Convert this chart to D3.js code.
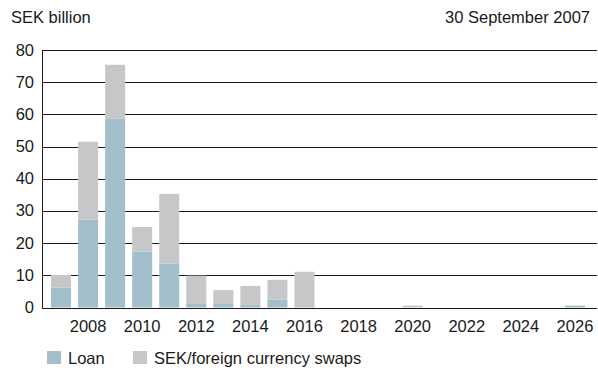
<!DOCTYPE html>
<html>
<head>
<meta charset="utf-8">
<script src="https://cdn.jsdelivr.net/npm/d3@7/dist/d3.min.js"></script>
<style>
  html, body { margin: 0; padding: 0; background: #fff; }
  svg { display: block; font-family: "Liberation Sans", Arial, Helvetica, sans-serif; }
</style>
</head>
<body>
<svg id="chart" width="598" height="370"></svg>
<script>
// Maturity profile, SEK billion
const years = [2007, 2008, 2009, 2010, 2011, 2012, 2013, 2014, 2015, 2016,
               2017, 2018, 2019, 2020, 2021, 2022, 2023, 2024, 2025, 2026];
const loan  = [6.2, 27.3, 58.6, 17.4, 13.6, 1.1, 1.1, 0.8, 2.4, 0,
               0, 0, 0, 0, 0, 0, 0, 0, 0, 0.6];
const swaps = [3.9, 24.2, 16.8, 7.6, 21.7, 8.8, 4.3, 5.9, 6.2, 11.1,
               0, 0, 0, 0.6, 0, 0, 0, 0, 0, 0];
const yTicks = [0, 10, 20, 30, 40, 50, 60, 70, 80];
const xTickYears = [2008, 2010, 2012, 2014, 2016, 2018, 2020, 2022, 2024, 2026];
const seriesNames = ["Loan", "SEK/foreign currency swaps"];
const colors = ["#a3bfcb", "#c6c7c9"];

const svg = d3.select("#chart");
const plot = { left: 43, right: 597, top: 50, bottom: 307.5 };
const ink = "#1a1a1a";
const fontSize = 16.5;

const x = d3.scaleBand()
  .domain(years)
  .range([47.5, 588.5])
  .paddingInner(0.26)
  .paddingOuter(0.13);

const y = d3.scaleLinear()
  .domain([0, 80])
  .range([plot.bottom, plot.top]);

// stacked layout
const rows = years.map((yr, i) => ({ year: yr, loan: loan[i], swaps: swaps[i] }));
const stack = d3.stack().keys(["loan", "swaps"]);
const layers = stack(rows);

// horizontal grid lines
svg.append("g")
  .selectAll("line")
  .data(yTicks)
  .join("line")
  .attr("x1", plot.left)
  .attr("x2", plot.right)
  .attr("y1", d => Math.round(y(d)) + 0.5)
  .attr("y2", d => Math.round(y(d)) + 0.5)
  .attr("stroke", ink)
  .attr("stroke-width", 1);

// bars
svg.append("g")
  .selectAll("g")
  .data(layers)
  .join("g")
  .attr("fill", (d, i) => colors[i])
  .selectAll("rect")
  .data(d => d)
  .join("rect")
  .attr("x", d => x(d.data.year))
  .attr("width", x.bandwidth())
  .attr("y", d => y(d[1]))
  .attr("height", d => Math.max(0, y(d[0]) - y(d[1])));

// baseline redrawn on top
svg.append("line")
  .attr("x1", plot.left).attr("x2", plot.right)
  .attr("y1", Math.round(y(0)) + 0.5).attr("y2", Math.round(y(0)) + 0.5)
  .attr("stroke", ink);

// vertical axis line
svg.append("line")
  .attr("x1", plot.left - 0.5).attr("x2", plot.left - 0.5)
  .attr("y1", Math.round(y(80)))
  .attr("y2", Math.round(y(0)) + 1)
  .attr("stroke", ink);

// y tick labels
svg.append("g")
  .selectAll("text")
  .data(yTicks)
  .join("text")
  .attr("x", 34)
  .attr("y", d => y(d) + 5.5)
  .attr("text-anchor", "end")
  .attr("font-size", fontSize)
  .attr("fill", ink)
  .text(d => d);

// x tick labels
svg.append("g")
  .selectAll("text")
  .data(xTickYears)
  .join("text")
  .attr("x", d => x(d) + x.bandwidth() / 2)
  .attr("y", 332)
  .attr("text-anchor", "middle")
  .attr("font-size", fontSize)
  .attr("fill", ink)
  .text(d => d);

// titles
svg.append("text")
  .attr("x", 11).attr("y", 23)
  .attr("font-size", fontSize)
  .attr("fill", ink)
  .text("SEK billion");
svg.append("text")
  .attr("x", 590).attr("y", 23)
  .attr("text-anchor", "end")
  .attr("font-size", fontSize)
  .attr("fill", ink)
  .text("30 September 2007");

// legend
const legendX = [47, 133];
const legend = svg.append("g")
  .selectAll("g")
  .data(seriesNames)
  .join("g")
  .attr("transform", (d, i) => `translate(${legendX[i]},351)`);
legend.append("rect")
  .attr("width", 14).attr("height", 13)
  .attr("fill", (d, i) => colors[i]);
legend.append("text")
  .attr("x", 21).attr("y", 13)
  .attr("font-size", fontSize)
  .attr("fill", ink)
  .text(d => d);
</script>
</body>
</html>
